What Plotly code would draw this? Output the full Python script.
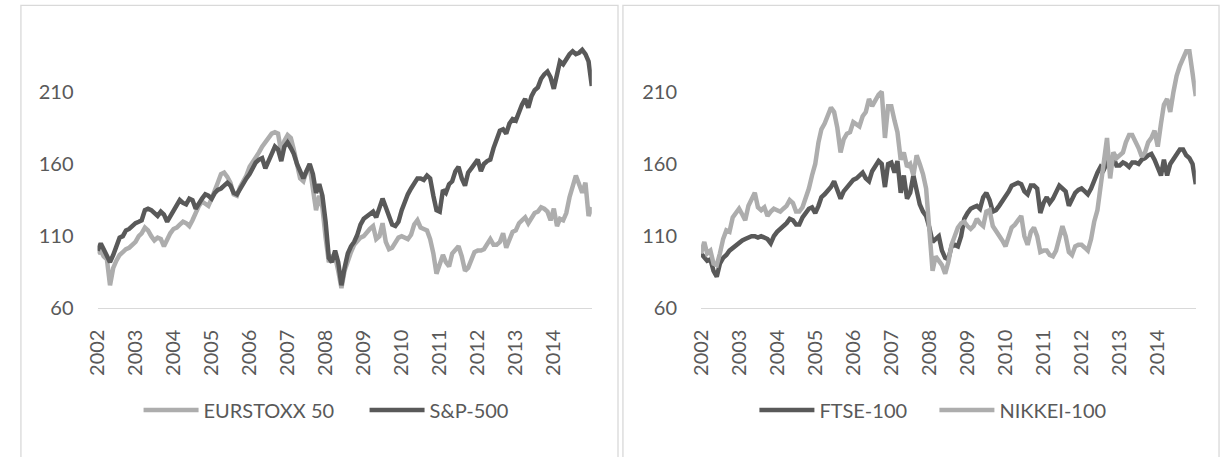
import pandas as pd
import plotly.graph_objects as go

# monthly observations, Jan 2002 .. Jan 2015
dates = pd.date_range("2002-01-01", periods=157, freq="MS")
year_ticks = [f"{y}-01-01" for y in range(2002, 2015)]
year_labels = [str(y) for y in range(2002, 2015)]
y_ticks = [60, 110, 160, 210]

eurostoxx50 = [
    98, 100, 96, 94, 76, 88, 93, 97, 99, 101,
    102, 104, 106, 110, 112, 116, 114, 110, 107, 109,
    108, 103, 108, 112, 115, 116, 118, 120, 119, 117,
    121, 127, 131, 134, 132, 131, 136, 141, 147, 153,
    154, 151, 147, 139, 138, 144, 148, 152, 158, 161,
    164, 168, 172, 175, 177, 181, 182, 181, 168, 176,
    180, 178, 170, 160,
    150, 148, 155, 158, 145, 128, 138, 130, 109, 92,
    96, 96, 86, 74, 86, 93, 99, 104, 107, 109,
    110, 113, 115, 117, 108, 110, 119, 106, 101, 102,
    105, 109, 110, 109, 108, 111, 118, 121, 116, 115,
    114, 108, 98, 84, 90, 97, 92, 89, 98, 101,
    103, 96, 86, 88, 94, 99, 100, 100, 101, 104,
    108, 104, 104, 106, 112, 102, 108, 113,
    114, 119, 121, 123, 119, 122, 126, 127, 130, 129,
    127, 121, 129, 117, 122, 121, 126, 137, 145, 152,
    146, 140, 147, 124, 130,
]

sp500 = [
    100, 105, 101, 97, 92, 97, 103, 109, 110, 114,
    115, 117, 119, 120, 121, 128, 129, 128, 126, 124,
    127, 125, 120, 124, 128, 131, 135, 133, 132, 136,
    135, 129, 133, 136, 139, 138, 136, 140, 142, 143,
    145, 147, 145, 140, 139, 143, 146, 150, 153, 157,
    161, 163, 164, 157, 162, 168, 172, 170, 162, 172,
    175, 171, 167, 160,
    155, 150, 155, 160, 153, 140, 146, 138, 120, 95,
    92, 100, 92, 76, 88, 98, 103, 106, 111, 118,
    122, 124, 126, 127, 123, 130, 136, 130, 124, 118,
    117, 120, 128, 134, 139, 143, 147, 150, 150, 149,
    152, 150, 138, 128, 127, 142, 140, 146, 148, 155,
    158, 150, 145, 154, 157, 160, 163, 155, 160, 162,
    163, 171, 176, 183, 184, 181, 188, 191,
    190, 196, 201, 205, 199, 207, 211, 213, 219, 222,
    224, 220, 212, 222, 231, 229, 233, 236, 238, 236,
    237, 239, 236, 231, 214,
]

ftse100 = [
    98, 95, 93, 94, 86, 82, 91, 95, 97, 100,
    102, 104, 106, 107, 108, 109, 110, 110, 109, 110,
    109, 108, 105, 110, 113, 115, 116, 119, 122, 121,
    118, 118, 123, 126, 129, 130, 126, 131, 137, 139,
    141, 144, 148, 141, 136, 141, 144, 147, 149, 150,
    152, 154, 150, 148, 155, 158, 162, 160, 144, 160,
    161, 154, 162, 140,
    152, 136, 140, 152, 142, 132, 127, 124, 116, 106,
    108, 110, 100, 95, 94, 103, 104, 103, 110, 122,
    126, 129, 130, 131, 129, 137, 140, 135, 127, 128,
    131, 134, 137, 141, 145, 146, 147, 146, 141, 139,
    145, 145, 143, 126, 133, 137, 133, 136, 141, 145,
    143, 141, 131, 136, 140, 142, 143, 141, 139, 143,
    149, 154, 158, 156, 161, 163, 165, 159,
    159, 161, 160, 158, 161, 161, 160, 163, 164, 166,
    167, 163, 158, 152, 163, 152, 160, 163, 166, 170,
    170, 166, 164, 160, 146,
]

nikkei100 = [
    98, 106, 98, 100, 91, 90, 98, 108, 114, 113,
    123, 126, 129, 125, 121, 131, 136, 140, 130, 128,
    130, 124, 127, 129, 128, 127, 129, 131, 135, 133,
    127, 127, 130, 136, 143, 152, 160, 175, 184, 188,
    193, 199, 196, 185, 168, 177, 181, 182, 189, 187,
    186, 193, 196, 205, 200, 204, 208, 210, 178, 200,
    200, 190, 182, 163,
    168, 158, 160, 152, 166, 160, 153, 143, 112, 86,
    96, 93, 90, 84, 92, 104, 110, 116, 119, 120,
    117, 115, 117, 122, 119, 117, 127, 128, 117, 114,
    111, 107, 103, 109, 116, 118, 121, 124, 110, 104,
    113, 116, 110, 99, 100, 100, 97, 96, 100, 108,
    117, 110, 99, 97, 103, 104, 104, 102, 100, 108,
    120, 128, 146, 160, 178, 150, 168, 164,
    166, 168, 175, 180, 180, 176, 171, 165, 168, 175,
    178, 183, 172, 188, 201, 205, 196, 210, 221, 228,
    233, 238, 238, 222, 207,
]

DARK = "#595959"
LIGHT = "#ADADAD"
TEXT = "#595959"
FONT = "Lato"
W, H = 1221, 457

fig = go.Figure()
fig.add_trace(go.Scatter(x=dates, y=eurostoxx50, name="EURSTOXX 50", mode="lines",
                         line=dict(color=LIGHT, width=4.5), xaxis="x", yaxis="y", legend="legend"))
fig.add_trace(go.Scatter(x=dates, y=sp500, name="S&P-500", mode="lines",
                         line=dict(color=DARK, width=4.5), xaxis="x", yaxis="y", legend="legend"))
fig.add_trace(go.Scatter(x=dates, y=ftse100, name="FTSE-100", mode="lines",
                         line=dict(color=DARK, width=4.5), xaxis="x2", yaxis="y2", legend="legend2"))
fig.add_trace(go.Scatter(x=dates, y=nikkei100, name="NIKKEI-100", mode="lines",
                         line=dict(color=LIGHT, width=4.5), xaxis="x2", yaxis="y2", legend="legend2"))

y_bottom = 1 - 316 / H
y_top = 1 - 20 / H

xcommon = dict(
    type="date", range=["2002-01-01", "2015-01-01"],
    tickvals=year_ticks, ticktext=year_labels, tickangle=-90,
    showgrid=False, zeroline=False, showline=True, linecolor="#D9D9D9", linewidth=1.3,
    ticks="outside", ticklen=12, tickcolor="rgba(0,0,0,0)",
    tickfont=dict(family=FONT, size=20, color=TEXT),
    fixedrange=True,
)
ycommon = dict(
    range=[60, 260], tickvals=y_ticks, showgrid=False, zeroline=False, showline=False,
    ticks="outside", ticklen=19, tickcolor="rgba(0,0,0,0)",
    tickfont=dict(family=FONT, size=20, color=TEXT),
    fixedrange=True,
)

legcommon = dict(orientation="h", yanchor="middle", y=1 - 420 / H, xanchor="left",
                 font=dict(family=FONT, size=20, color=TEXT), bgcolor="rgba(0,0,0,0)",
                 entrywidthmode="pixels", itemwidth=55)

fig.update_layout(
    width=W, height=H,
    margin=dict(l=0, r=0, t=0, b=0),
    paper_bgcolor="white", plot_bgcolor="white",
    xaxis=dict(domain=[84.5 / W, 584.5 / W], anchor="y", **xcommon),
    yaxis=dict(domain=[y_bottom, y_top], anchor="x", **ycommon),
    xaxis2=dict(domain=[695 / W, 1195.5 / W], anchor="y2", **xcommon),
    yaxis2=dict(domain=[y_bottom, y_top], anchor="x2", **ycommon),
    legend=dict(x=126 / W, entrywidth=156, **legcommon),
    legend2=dict(x=749 / W, entrywidth=110, **legcommon),
    shapes=[
        dict(type="rect", xref="paper", yref="paper", x0=7 / W, x1=611 / W,
             y0=-0.1, y1=1 - 5.5 / H, line=dict(color="#D9D9D9", width=1.3), layer="below"),
        dict(type="rect", xref="paper", yref="paper", x0=616 / W, x1=1219 / W,
             y0=-0.1, y1=1 - 5.5 / H, line=dict(color="#D9D9D9", width=1.3), layer="below"),
    ],
)

fig.write_html("out.html", config={"displayModeBar": False},
               post_script="document.body.style.margin='0';")
